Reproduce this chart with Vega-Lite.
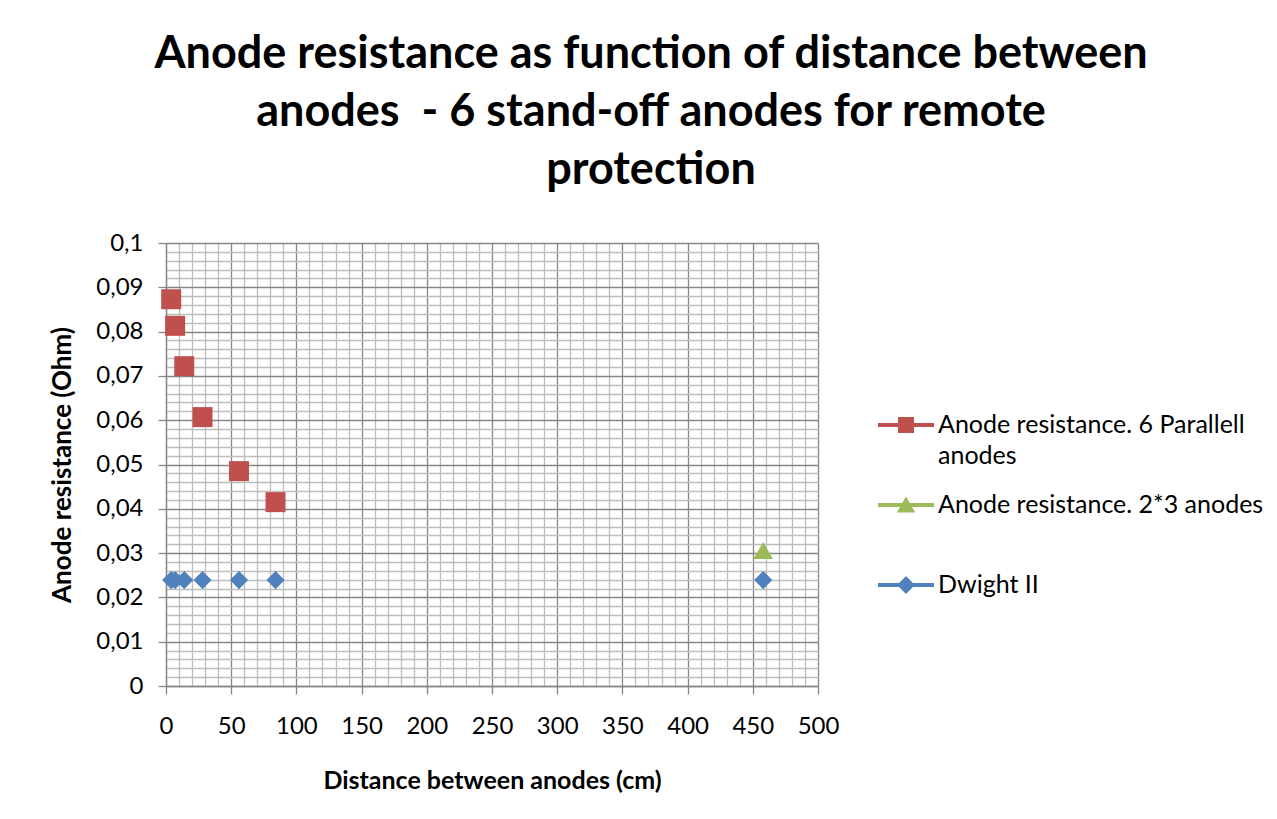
{
  "$schema": "https://vega.github.io/schema/vega-lite/v6.json",
  "width": 652,
  "height": 443,
  "autosize": {"type": "none"},
  "padding": {"left": 166, "top": 243, "right": 459, "bottom": 133},
  "background": "white",
  "config": {
    "locale": {"number": {"decimal": ",", "thousands": " ", "grouping": [3], "currency": ["", ""]}},
    "font": "Lato",
    "view": {"stroke": null}
  },
  "title": {
    "text": ["Anode resistance as function of distance between", "anodes \u00a0- 6 stand-off anodes for remote", "protection"],
    "fontSize": 45,
    "font": "Lato",
    "fontWeight": "bold",
    "lineHeight": 58,
    "anchor": "middle",
    "frame": "group",
    "dx": 159,
    "offset": 38,
    "color": "black"
  },
  "data": {
    "values": [
      {"series": "Anode resistance. 6 Parallell anodes", "x": 4, "y": 0.0873},
      {"series": "Anode resistance. 6 Parallell anodes", "x": 7, "y": 0.0813},
      {"series": "Anode resistance. 6 Parallell anodes", "x": 14, "y": 0.0722},
      {"series": "Anode resistance. 6 Parallell anodes", "x": 28, "y": 0.0607},
      {"series": "Anode resistance. 6 Parallell anodes", "x": 56, "y": 0.0485},
      {"series": "Anode resistance. 6 Parallell anodes", "x": 84, "y": 0.0415},
      {"series": "Anode resistance. 2*3 anodes", "x": 458, "y": 0.0306},
      {"series": "Dwight II", "x": 4, "y": 0.0239},
      {"series": "Dwight II", "x": 7, "y": 0.0239},
      {"series": "Dwight II", "x": 14, "y": 0.0239},
      {"series": "Dwight II", "x": 28, "y": 0.0239},
      {"series": "Dwight II", "x": 56, "y": 0.0239},
      {"series": "Dwight II", "x": 84, "y": 0.0239},
      {"series": "Dwight II", "x": 458, "y": 0.0239}
    ]
  },
  "mark": {"type": "point", "filled": true, "opacity": 1},
  "encoding": {
    "x": {
      "field": "x",
      "type": "quantitative",
      "scale": {"domain": [0, 500], "nice": false, "zero": false},
      "axis": {
        "values": [0,10,20,30,40,50,60,70,80,90,100,110,120,130,140,150,160,170,180,190,200,210,220,230,240,250,260,270,280,290,300,310,320,330,340,350,360,370,380,390,400,410,420,430,440,450,460,470,480,490,500],
        "grid": true,
        "gridColor": {"condition": {"test": "datum.value % 50 === 0", "value": "#868686"}, "value": "#bdbdbd"},
        "gridWidth": 1.3,
        "tickOpacity": {"condition": {"test": "datum.value % 50 === 0", "value": 1}, "value": 0},
        "labelExpr": "datum.value % 50 === 0 ? datum.label : ''",
        "format": "d",
        "labelOverlap": false,
        "labelFlush": false,
        "labelFontSize": 24,
        "labelColor": "black",
        "labelPadding": 20,
        "tickColor": "#868686",
        "tickSize": 8,
        "tickWidth": 1.3,
        "domainColor": "#868686",
        "domainWidth": 1.3,
        "title": "Distance between anodes (cm)",
        "titleFontSize": 25,
        "titleFontWeight": "bold",
        "titleColor": "black",
        "titlePadding": 30
      }
    },
    "y": {
      "field": "y",
      "type": "quantitative",
      "scale": {"domain": [0, 0.1], "nice": false},
      "axis": {
        "values": [0,0.002,0.004,0.006,0.008,0.01,0.012,0.014,0.016,0.018,0.02,0.022,0.024,0.026,0.028,0.03,0.032,0.034,0.036,0.038,0.04,0.042,0.044,0.046,0.048,0.05,0.052,0.054,0.056,0.058,0.06,0.062,0.064,0.066,0.068,0.07,0.072,0.074,0.076,0.078,0.08,0.082,0.084,0.086,0.088,0.09,0.092,0.094,0.096,0.098,0.1],
        "grid": true,
        "gridColor": {"condition": {"test": "abs(datum.value*100 - round(datum.value*100)) < 0.000001", "value": "#868686"}, "value": "#bdbdbd"},
        "gridWidth": 1.3,
        "tickOpacity": {"condition": {"test": "abs(datum.value*100 - round(datum.value*100)) < 0.000001", "value": 1}, "value": 0},
        "labelExpr": "abs(datum.value*100 - round(datum.value*100)) < 0.000001 ? format(datum.value, '.2~f') : ''",
        "labelOverlap": false,
        "labelFlush": false,
        "labelFontSize": 24,
        "labelColor": "black",
        "labelPadding": 15,
        "tickColor": "#868686",
        "tickSize": 8,
        "tickWidth": 1.3,
        "domainColor": "#868686",
        "domainWidth": 1.3,
        "title": "Anode resistance (Ohm)",
        "titleFontSize": 26,
        "titleFontWeight": "bold",
        "titleColor": "black",
        "titlePadding": 20
      }
    },
    "color": {
      "field": "series",
      "type": "nominal",
      "scale": {
        "domain": ["Anode resistance. 6 Parallell anodes", "Anode resistance. 2*3 anodes", "Dwight II"],
        "range": ["#C0504D", "#9BBB59", "#4F81BD"]
      },
      "legend": {
        "title": null,
        "orient": "none",
        "legendX": 712,
        "legendY": 154,
        "padding": 0,
        "symbolSize": 3136,
        "symbolOpacity": 1,
        "labelFontSize": 25,
        "labelColor": "black",
        "labelLimit": 400,
        "labelOffset": 4,
        "gridAlign": "all",
        "rowPadding": 8,
        "labelExpr": "datum.label == 'Anode resistance. 6 Parallell anodes' ? ['Anode resistance. 6 Parallell', 'anodes'] : datum.label",
        "encode": {
          "symbols": {
            "update": {
              "shape": {"signal": "datum.value == 'Dwight II' ? 'M-1,-0.071H1V0.071H-1Z M0,-0.32L0.32,0L0,0.32L-0.32,0Z' : datum.value == 'Anode resistance. 2*3 anodes' ? 'M-1,-0.071H1V0.071H-1Z M0,-0.3L0.33,0.27H-0.33Z' : 'M-1,-0.071H1V0.071H-1Z M-0.286,-0.286H0.286V0.286H-0.286Z'"},
              "size": {"value": 3136},
              "strokeWidth": {"value": 0}
            }
          },
          "labels": {
            "update": {
              "lineHeight": {"value": 31}
            }
          }
        }
      }
    },
    "shape": {
      "condition": [
        {"test": "datum.series == 'Dwight II'", "value": "diamond"},
        {"test": "datum.series == 'Anode resistance. 2*3 anodes'", "value": "triangle-up"}
      ],
      "value": "square"
    },
    "size": {
      "condition": [
        {"test": "datum.series == 'Dwight II'", "value": 330},
        {"test": "datum.series == 'Anode resistance. 2*3 anodes'", "value": 380}
      ],
      "value": 400
    }
  }
}
